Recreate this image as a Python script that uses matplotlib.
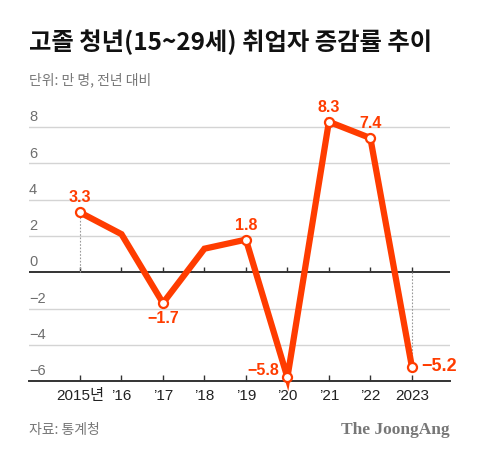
import matplotlib

matplotlib.use("Agg")
import matplotlib.pyplot as plt
import matplotlib.transforms as mtransforms

plt.rcParams["font.family"] = ["Noto Sans CJK KR", "DejaVu Sans"]
NUM_FONT = ["Liberation Sans", "Noto Sans CJK KR", "DejaVu Sans"]

YEARS = [2015, 2016, 2017, 2018, 2019, 2020, 2021, 2022, 2023]
VALUES = [3.3, 2.1, -1.7, 1.3, 1.8, -5.8, 8.3, 7.4, -5.2]
XLABELS = ["2015년", "’16", "’17", "’18", "’19", "’20", "’21", "’22", "2023"]
YTICKS = [-6, -4, -2, 0, 2, 4, 6, 8]
MARKED = [2015, 2017, 2019, 2020, 2021, 2022, 2023]
# label placement: (x offset pt, y offset pt, ha, va, fontsize)
LABEL_POS = {
    2015: (0, 5, "center", "bottom", 11.5),
    2017: (0, -6, "center", "top", 11.5),
    2019: (0, 5, "center", "bottom", 11.5),
    2020: (-6, 5, "right", "center", 11.5),
    2021: (0, 5, "center", "bottom", 11.5),
    2022: (0, 5, "center", "bottom", 11.5),
    2023: (7, 0, "left", "center", 13),
}

RED = "#ff3c00"
GRID = "#d4d4d4"
DARK = "#333333"


def fmt(v):
    s = f"{abs(v):.1f}"
    return "−" + s if v < 0 else s


fig = plt.figure(figsize=(4.8, 4.58), dpi=100)
ax = fig.add_axes([29 / 480, 0.168, 421 / 480, 0.582])
ax.set_xlim(2013.77, 2023.92)
ax.set_ylim(-6, 8.7)

for s in ["top", "right", "left"]:
    ax.spines[s].set_visible(False)
ax.spines["bottom"].set_color(DARK)
ax.spines["bottom"].set_linewidth(1.4)
ax.set_yticks([])
ax.set_xticks(YEARS)
ax.set_xticklabels(XLABELS, fontsize=11, color="#222222", family=NUM_FONT)
ax.tick_params(axis="x", direction="in", length=4, width=1, color=DARK, pad=6)

# grid lines + y labels inside the plot
ylab_tr = mtransforms.offset_copy(ax.get_yaxis_transform(), fig=fig, x=0, y=2, units="points")
for t in YTICKS:
    if t == 0:
        ax.axhline(t, color=DARK, lw=1.4, zorder=1)
    elif t != -6:
        ax.axhline(t, color=GRID, lw=1.0, zorder=1)
    ax.text(0.0, t, fmt(t).replace(".0", ""), transform=ylab_tr, fontsize=10.5,
            color="#6e6e6e", ha="left", va="bottom", family=NUM_FONT)

# ticks on the zero line
ax.vlines(YEARS, 0, 0.3, color=DARK, lw=1, zorder=2)

# dotted guides for first and last year
for yr in (YEARS[0], YEARS[-1]):
    v = VALUES[YEARS.index(yr)]
    ax.plot([yr, yr], [0, v], color="#999999", lw=0.8, ls=(0, (1.5, 1.5)), zorder=2)

ax.plot(YEARS, VALUES, color=RED, lw=4.5, solid_joinstyle="miter",
        solid_capstyle="butt", zorder=3, clip_on=False)
mv = [VALUES[YEARS.index(y)] for y in MARKED]
ax.plot(MARKED, mv, ls="none", marker="o", ms=6.5, mfc="white", mec=RED,
        mew=1.6, zorder=4, clip_on=False)

for yr in MARKED:
    v = VALUES[YEARS.index(yr)]
    dx, dy, ha, va, fs = LABEL_POS[yr]
    ax.annotate(fmt(v), (yr, v), xytext=(dx, dy), textcoords="offset points",
                ha=ha, va=va, fontsize=fs, fontweight="bold", color=RED, zorder=5,
                family=NUM_FONT)

fig.text(29 / 480, 1 - 42 / 458, "고졸 청년(15~29세) 취업자 증감률 추이",
         fontsize=17.5, fontweight="bold", color="#111111", ha="left", va="center")
fig.text(29 / 480, 1 - 80 / 458, "단위: 만 명, 전년 대비", fontsize=10,
         color="#777777", ha="left", va="center")
fig.text(29 / 480, 1 - 430 / 458, "자료: 통계청", fontsize=10,
         color="#777777", ha="left", va="center")
fig.text(450 / 480, 1 - 430 / 458, "The JoongAng", fontsize=12.5, fontweight="bold",
         family=["Liberation Serif", "DejaVu Serif"], color="#777777",
         ha="right", va="center")

fig.savefig("out.png", dpi=100, facecolor="white")
